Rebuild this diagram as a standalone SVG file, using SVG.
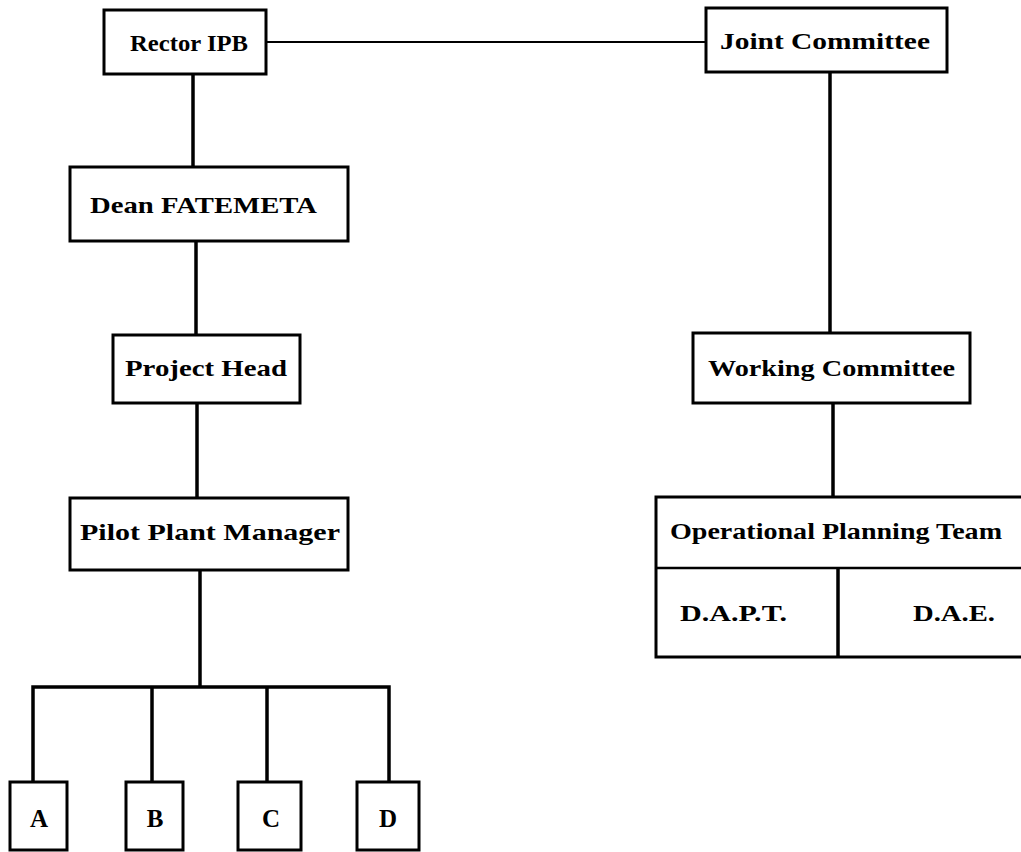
<svg xmlns="http://www.w3.org/2000/svg" width="1021" height="852" viewBox="0 0 1021 852">
<style>
.box{fill:#fff;stroke:#000;stroke-width:3}
.ln{stroke:#000;stroke-width:3.5;fill:none}
.t{font-family:"Liberation Serif",serif;font-weight:bold;font-size:23px;fill:#000}
.l{font-size:25px}
</style>
<rect width="1021" height="852" fill="#fff"/>
<g id="connectors">
<line class="ln" x1="266" y1="42" x2="706" y2="42" style="stroke-width:2"/>
<line class="ln" x1="193" y1="74" x2="193" y2="168"/>
<line class="ln" x1="196" y1="241" x2="196" y2="335"/>
<line class="ln" x1="197" y1="404" x2="197" y2="498"/>
<line class="ln" x1="200" y1="570" x2="200" y2="687"/>
<polyline class="ln" points="33,782 33,687 389,687 389,782"/>
<line class="ln" x1="152" y1="687" x2="152" y2="782"/>
<line class="ln" x1="267" y1="687" x2="267" y2="782"/>
<line class="ln" x1="830" y1="72" x2="830" y2="333"/>
<line class="ln" x1="833" y1="403" x2="833" y2="497"/>
</g>
<g id="rector"><rect class="box" x="104" y="10" width="162" height="64"/><text class="t" x="130" y="51" textLength="118" lengthAdjust="spacingAndGlyphs">Rector IPB</text></g>
<g id="joint"><rect class="box" x="706" y="8" width="241" height="64"/><text class="t" x="720" y="49" textLength="210" lengthAdjust="spacingAndGlyphs">Joint Committee</text></g>
<g id="dean"><rect class="box" x="70" y="167" width="278" height="74"/><text class="t" x="90" y="213" textLength="227" lengthAdjust="spacingAndGlyphs">Dean FATEMETA</text></g>
<g id="project"><rect class="box" x="113" y="335" width="187" height="68"/><text class="t" x="125" y="376" textLength="162" lengthAdjust="spacingAndGlyphs">Project Head</text></g>
<g id="pilot"><rect class="box" x="70" y="498" width="278" height="72"/><text class="t" x="80" y="540" textLength="260" lengthAdjust="spacingAndGlyphs">Pilot Plant Manager</text></g>
<g id="a"><rect class="box" x="10" y="782" width="57" height="68"/><text class="t l" x="39" y="827" text-anchor="middle">A</text></g>
<g id="b"><rect class="box" x="126" y="782" width="57" height="68"/><text class="t l" x="155" y="827" text-anchor="middle">B</text></g>
<g id="c"><rect class="box" x="238" y="782" width="63" height="68"/><text class="t l" x="271" y="827" text-anchor="middle">C</text></g>
<g id="d"><rect class="box" x="357" y="782" width="62" height="68"/><text class="t l" x="388" y="827" text-anchor="middle">D</text></g>
<g id="working"><rect class="box" x="693" y="333" width="277" height="70"/><text class="t" x="708" y="376" textLength="247" lengthAdjust="spacingAndGlyphs">Working Committee</text></g>
<g id="opt">
<rect class="box" x="656" y="497" width="370" height="160"/>
<line class="ln" x1="656" y1="568" x2="1026" y2="568" style="stroke-width:2.5"/>
<line class="ln" x1="838" y1="568" x2="838" y2="657"/>
<text class="t" x="670" y="539" textLength="332" lengthAdjust="spacingAndGlyphs">Operational Planning Team</text>
<text class="t" x="680" y="621" textLength="107" lengthAdjust="spacingAndGlyphs">D.A.P.T.</text>
<text class="t" x="913" y="621" textLength="82" lengthAdjust="spacingAndGlyphs">D.A.E.</text>
</g>
</svg>
